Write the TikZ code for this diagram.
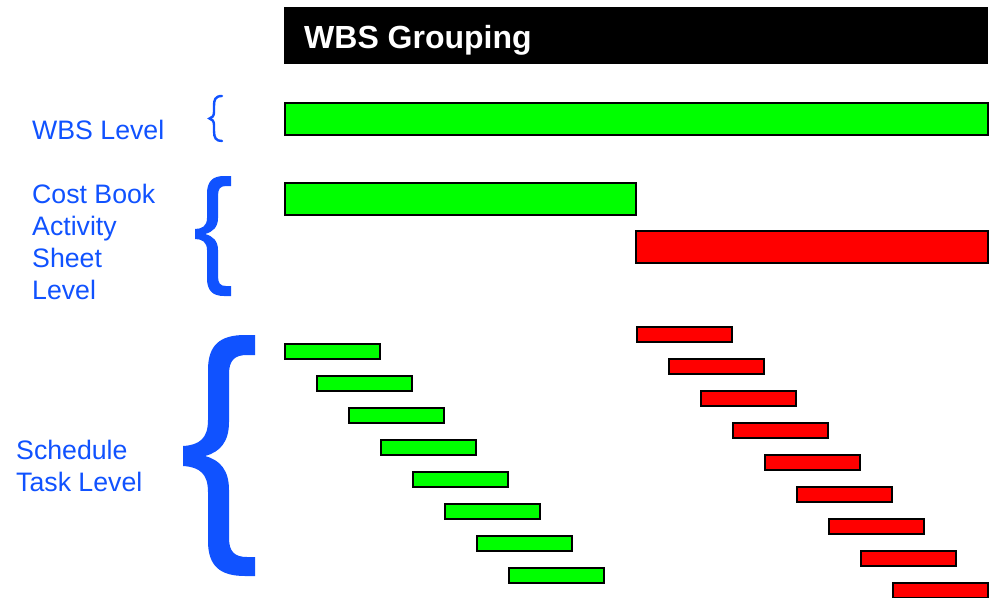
\documentclass[tikz,border=0pt]{standalone}
\usepackage{fontspec}
\setmainfont{Liberation Sans}
\definecolor{lvlblue}{RGB}{16,82,255}
\definecolor{bargreen}{RGB}{0,255,0}
\definecolor{barred}{RGB}{255,0,0}
\begin{document}
\begin{tikzpicture}[x=1pt,y=-1pt,
  bar/.style={draw=black,line width=2.3pt},
  greenbar/.style={bar,fill=bargreen},
  redbar/.style={bar,fill=barred},
  lvltext/.style={anchor=base west,inner sep=0pt,text=lvlblue,
    font=\fontsize{26.7}{32}\selectfont},
  brace/.style={fill=lvlblue}]
\useasboundingbox (0,0) rectangle (998,597);
\clip (0,0) rectangle (998,597);

% title bar
\fill[black] (284,7) rectangle (988,64);
\node[anchor=base west,inner sep=0pt,text=white,
  font=\fontsize{32}{38}\selectfont\bfseries] (title) at (304,48) {WBS Grouping};

% level labels
\node[lvltext] (wbs) at (32,139) {WBS Level};
\node[lvltext] (cb1) at (32,203) {Cost Book};
\node[lvltext] (cb2) at (32,235) {Activity};
\node[lvltext] (cb3) at (32,267) {Sheet};
\node[lvltext] (cb4) at (32,299) {Level};
\node[lvltext] (st1) at (16,459) {Schedule};
\node[lvltext] (st2) at (16,491) {Task Level};

% small brace
\draw[lvlblue,line width=2.4pt,line cap=round]
  (222,96) .. controls (215,96) and (214,100) .. (214,106)
  -- (214,112) .. controls (214,116) and (212,118) .. (209.5,118.5)
  .. controls (212,119) and (214,121) .. (214,125)
  -- (214,131) .. controls (214,138) and (216,141) .. (222,141);

% medium brace
\fill[brace] (231,176) -- (224,176)
  .. controls (212,176) and (207,182) .. (207,194)
  -- (207,218)
  .. controls (207,226) and (202,229) .. (195,229)
  -- (195,239)
  .. controls (202,239) and (207,242) .. (207,250)
  -- (207,278)
  .. controls (207,290) and (212,296) .. (224,296)
  -- (231,296) -- (231,286) -- (226,286)
  .. controls (220,286) and (218,283) .. (218,276)
  -- (218,250)
  .. controls (218,241) and (213,236) .. (205,234)
  .. controls (213,232) and (218,227) .. (218,218)
  -- (218,196)
  .. controls (218,189) and (220,186) .. (226,186)
  -- (231,186) -- cycle;

% large brace
\fill[brace] (255,335) -- (245,335)
  .. controls (220,335) and (208,345) .. (208,370)
  -- (208,420)
  .. controls (208,438) and (200,445) .. (183,446)
  -- (183,466)
  .. controls (200,467) and (208,474) .. (208,492)
  -- (208,541)
  .. controls (208,566) and (220,576) .. (245,576)
  -- (255,576) -- (255,557) -- (247,557)
  .. controls (235,557) and (229,552) .. (229,538)
  -- (229,490)
  .. controls (229,470) and (220,460) .. (205,456)
  .. controls (220,452) and (229,442) .. (229,422)
  -- (229,374)
  .. controls (229,360) and (235,355) .. (247,355)
  -- (255,355) -- cycle;

% WBS level bar
\draw[greenbar] (285,103) rectangle (988,135);

% cost book activity sheet bars
\draw[greenbar] (285,183) rectangle (636,215);
\draw[redbar] (636,231) rectangle (988,263);

% schedule task bars
\foreach \i in {0,...,7}
  \draw[greenbar] ({285+32*\i},{344+32*\i}) rectangle ({380+32*\i},{359+32*\i});
\foreach \i in {0,...,8}
  \draw[redbar] ({637+32*\i},{327+32*\i}) rectangle ({732+32*\i},{342+32*\i});
\end{tikzpicture}
\end{document}
